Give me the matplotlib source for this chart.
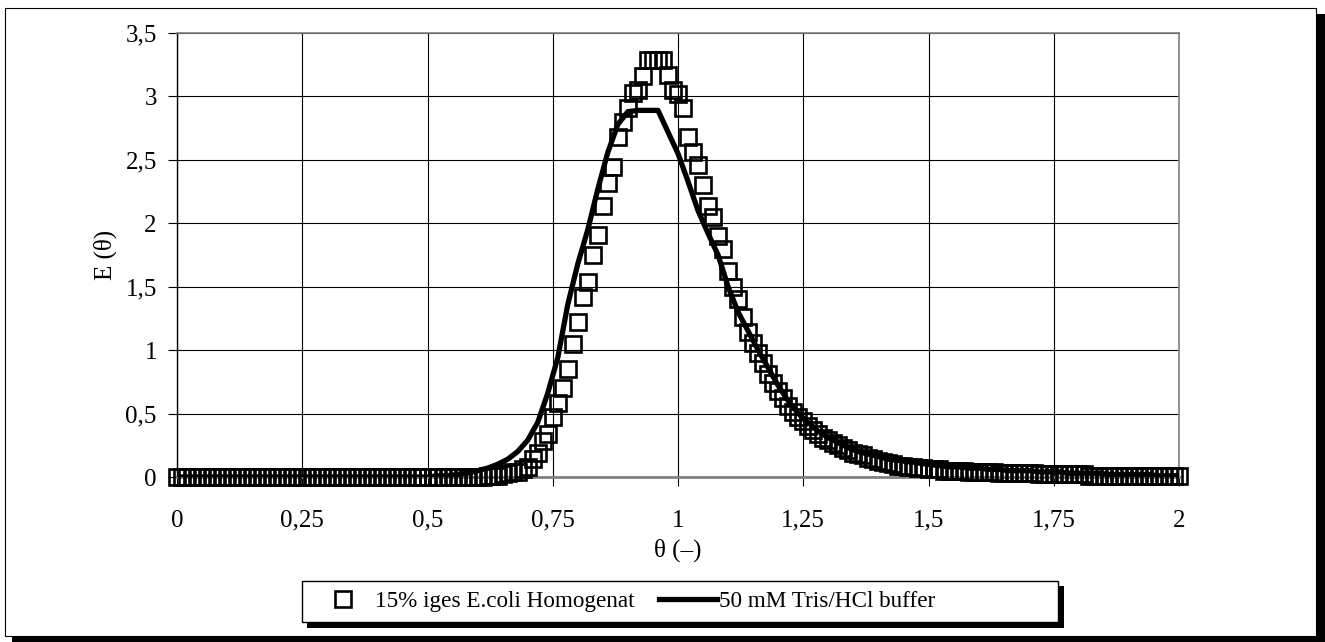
#! /usr/bin/env python
import numpy as np
import matplotlib
matplotlib.use("Agg")
import matplotlib.pyplot as plt
from matplotlib.patches import Rectangle

plt.rcParams['font.family'] = ['Liberation Serif', 'DejaVu Serif']
plt.rcParams['font.size'] = 17

# 15% E.coli homogenate, one point every 0.01 in theta
theta_sq = np.round(np.arange(0, 201) * 0.01, 2)
E_sq = [
    0, 0, 0, 0, 0, 0, 0, 0, 0, 0,
    0, 0, 0, 0, 0, 0, 0, 0, 0, 0,
    0, 0, 0, 0, 0, 0, 0, 0, 0, 0,
    0, 0, 0, 0, 0, 0, 0, 0, 0, 0,
    0, 0, 0, 0, 0, 0, 0, 0, 0, 0,
    0, 0, 0, 0, 0, 0, 0, 0, 0, 0,
    0, 0.00, 0.01, 0.01, 0.01, 0.02, 0.03, 0.04, 0.04, 0.06,
    0.08, 0.14, 0.19, 0.28, 0.34, 0.47, 0.58, 0.70, 0.85, 1.05,
    1.22, 1.42, 1.54, 1.75, 1.91, 2.14, 2.32, 2.44, 2.68, 2.80,
    2.91, 3.03, 3.05, 3.16, 3.29, 3.29, 3.29, 3.29, 3.17, 3.05,
    3.02, 2.91, 2.68, 2.56, 2.46, 2.30, 2.14, 2.05, 1.90, 1.80,
    1.62, 1.50, 1.40, 1.26, 1.14, 1.06, 0.98, 0.90, 0.81, 0.74,
    0.68, 0.62, 0.56, 0.51, 0.47, 0.44, 0.40, 0.37, 0.34, 0.31,
    0.29, 0.27, 0.25, 0.23, 0.21, 0.19, 0.18, 0.17, 0.15, 0.14,
    0.13, 0.12, 0.11, 0.10, 0.09, 0.09, 0.08, 0.08, 0.07, 0.07,
    0.06, 0.06, 0.06, 0.05, 0.05, 0.05, 0.05, 0.05, 0.04, 0.04,
    0.04, 0.04, 0.04, 0.04, 0.03, 0.03, 0.03, 0.03, 0.03, 0.03,
    0.03, 0.03, 0.02, 0.02, 0.02, 0.02, 0.02, 0.02, 0.02, 0.02,
    0.02, 0.02, 0.01, 0.01, 0.01, 0.01, 0.01, 0.01, 0.01, 0.01,
    0.01, 0.01, 0.01, 0.01, 0.01, 0.01, 0.01, 0.01, 0.01, 0.01,
    0.01,
]

# 50 mM Tris/HCl buffer, one point every 0.02 in theta
theta_ln = np.round(np.arange(0, 101) * 0.02, 2)
E_ln = [
    0, 0, 0, 0, 0, 0, 0, 0, 0, 0,
    0, 0, 0, 0, 0, 0, 0, 0, 0, 0,
    0, 0, 0, 0, 0, 0, 0.01, 0.01, 0.02, 0.03,
    0.05, 0.07, 0.10, 0.14, 0.20, 0.29, 0.43, 0.66, 0.94, 1.36,
    1.68, 1.95, 2.27, 2.56, 2.78, 2.88, 2.89, 2.89, 2.89, 2.72,
    2.55, 2.33, 2.10, 1.92, 1.75, 1.50, 1.30, 1.15, 1.00, 0.86,
    0.72, 0.60, 0.50, 0.43, 0.36, 0.31, 0.27, 0.23, 0.20, 0.18,
    0.16, 0.14, 0.13, 0.12, 0.11, 0.10, 0.09, 0.08, 0.08, 0.07,
    0.07, 0.06, 0.06, 0.05, 0.05, 0.05, 0.04, 0.04, 0.04, 0.03,
    0.03, 0.03, 0.03, 0.02, 0.02, 0.02, 0.02, 0.02, 0.01, 0.01,
    0.01,
]

x_ticks = [0, 0.25, 0.5, 0.75, 1, 1.25, 1.5, 1.75, 2]
x_labels = ["0", "0,25", "0,5", "0,75", "1", "1,25", "1,5", "1,75", "2"]
y_ticks = [0, 0.5, 1, 1.5, 2, 2.5, 3, 3.5]
y_labels = ["0", "0,5", "1", "1,5", "2", "2,5", "3", "3,5"]

W, H = 1325, 642
fig = plt.figure(figsize=(W / 100, H / 100), dpi=100)

# helper: rectangle given in pixel coords (origin top-left)
def px_rect(x0, y0, x1, y1, **kw):
    return Rectangle((x0 / W, 1 - y1 / H), (x1 - x0) / W, (y1 - y0) / H,
                     transform=fig.transFigure, **kw)

# outer chart frame with shadow
fig.add_artist(px_rect(12, 14, 1325, 642, facecolor='k', edgecolor='none', zorder=-11))
fig.add_artist(px_rect(5, 8, 1316, 636, facecolor='white', edgecolor='k', lw=0.8, zorder=-10))

ax = fig.add_axes([177 / W, 1 - 477 / H, (1179 - 177) / W, (477 - 33) / H])
ax.set_facecolor('none')

ax.plot(theta_sq, E_sq, linestyle='none', marker='s', ms=11.5, mfc='none',
        mec='k', mew=1.9, clip_on=False, zorder=3, label='15% iges E.coli Homogenat')
ax.plot(theta_ln, E_ln, color='k', lw=3.8, zorder=4, label='50 mM Tris/HCl buffer')

ax.set_xlim(0, 2)
ax.set_ylim(0, 3.5)
ax.set_xticks(x_ticks)
ax.set_xticklabels(x_labels)
ax.set_yticks(y_ticks)
ax.set_yticklabels(y_labels)
ax.grid(True, color='k', lw=0.8)
ax.set_axisbelow(True)
ax.tick_params(direction='out', length=6.5, width=0.8, color='k', labelsize=18)
ax.tick_params(axis='y', pad=8)
ax.tick_params(axis='x', pad=17)
for s in ['top', 'right', 'bottom']:
    ax.spines[s].set_color('#808080')
    ax.spines[s].set_linewidth(1.2)
ax.spines['bottom'].set_linewidth(2)
ax.spines['left'].set_color('k')
ax.spines['left'].set_linewidth(1)

fig.text(105 / W, 1 - 255 / H, "E (θ)", rotation=90, ha='center', va='center', fontsize=18)
fig.text(678 / W, 1 - 550 / H, "θ (–)", ha='center', va='center', fontsize=18)

# legend box with black shadow, contents placed inside
fig.add_artist(px_rect(307, 586, 1064, 628, facecolor='k', edgecolor='none', zorder=4))
fig.add_artist(px_rect(302, 581, 1058, 622, facecolor='white', edgecolor='k', lw=1, zorder=4.5))
handles, labels = ax.get_legend_handles_labels()
leg = fig.legend(handles, labels, ncol=2, loc='center left',
                 bbox_to_anchor=(305 / W, 1 - 601.5 / H),
                 frameon=False, handlelength=2.5, handletextpad=0.1,
                 columnspacing=1.05, borderpad=0.4, borderaxespad=0,
                 prop={'size': 16.7})
leg.set_zorder(5)

fig.savefig("out.png", dpi=100)
